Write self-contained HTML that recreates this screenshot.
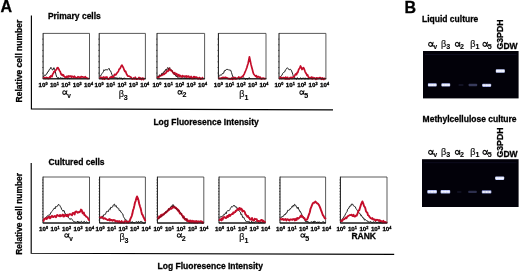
<!DOCTYPE html>
<html><head><meta charset="utf-8"><title>Figure</title>
<style>
html,body{margin:0;padding:0;background:#fff;}
body{width:520px;height:271px;overflow:hidden;font-family:"Liberation Sans",sans-serif;}
svg{display:block;position:absolute;left:0;top:0;}
text{font-family:"Liberation Sans",sans-serif;fill:#111;}
.pl{font-size:16px;font-weight:bold;fill:#000;stroke:#000;stroke-width:0.3px;}
.tt{font-size:8.5px;font-weight:bold;fill:#000;stroke:#000;stroke-width:0.28px;}
.tk{font-size:6.2px;font-weight:bold;fill:#000;stroke:#000;stroke-width:0.32px;}
.sp{font-size:3.8px;}
.gr{font-size:9.0px;fill:#141414;stroke:#141414;stroke-width:0.2px;}
.sb{font-size:7.1px;font-weight:bold;fill:#000;stroke:#000;stroke-width:0.1px;}
.sv{font-size:6.5px;}
</style></head><body>
<svg width="520" height="271" viewBox="0 0 520 271">
<defs>
<filter id="bl" x="-20%" y="-50%" width="140%" height="200%"><feGaussianBlur stdDeviation="0.55"/></filter>
<filter id="soft" x="-5%" y="-5%" width="110%" height="110%"><feGaussianBlur stdDeviation="0.2"/></filter>
</defs>
<rect x="0" y="0" width="520" height="271" fill="#ffffff"/>
<g filter="url(#soft)">

<text x="0.4" y="11.5" class="pl">A</text>
<text x="404.6" y="13.1" class="pl">B</text>
<text x="47.9" y="18.7" class="tt">Primary cells</text>
<text transform="translate(22.3,102.4) rotate(-90)" class="tt">Relative cell number</text>
<path d="M31.4,15.5 V108.9 L333,109.8" fill="none" stroke="#000" stroke-width="1.15"/>
<text x="153.4" y="125.4" class="tt">Log Fluoresence Intensity</text>
<rect x="43.1" y="33.4" width="46.4" height="45.4" fill="#fff"/>
<path d="M43.1,33.4 H89.5 V78.8" fill="none" stroke="#3c3c3c" stroke-width="0.85"/>
<path d="M43.1,33.1 V78.8 H89.8" fill="none" stroke="#161616" stroke-width="1.0"/>
<line x1="42.1" y1="73.1" x2="43.4" y2="73.1" stroke="#222" stroke-width="0.6"/>
<line x1="42.1" y1="67.5" x2="43.4" y2="67.5" stroke="#222" stroke-width="0.6"/>
<line x1="42.1" y1="61.8" x2="43.4" y2="61.8" stroke="#222" stroke-width="0.6"/>
<line x1="42.1" y1="56.1" x2="43.4" y2="56.1" stroke="#222" stroke-width="0.6"/>
<line x1="42.1" y1="50.4" x2="43.4" y2="50.4" stroke="#222" stroke-width="0.6"/>
<line x1="42.1" y1="44.8" x2="43.4" y2="44.8" stroke="#222" stroke-width="0.6"/>
<line x1="42.1" y1="39.1" x2="43.4" y2="39.1" stroke="#222" stroke-width="0.6"/>
<text x="43.0" y="86.8" class="tk" text-anchor="middle">10<tspan class="sp" dy="-1.9">0</tspan></text>
<text x="54.4" y="86.8" class="tk" text-anchor="middle">10<tspan class="sp" dy="-1.9">1</tspan></text>
<text x="65.8" y="86.8" class="tk" text-anchor="middle">10<tspan class="sp" dy="-1.9">2</tspan></text>
<text x="77.2" y="86.8" class="tk" text-anchor="middle">10<tspan class="sp" dy="-1.9">3</tspan></text>
<text x="88.6" y="86.8" class="tk" text-anchor="middle">10<tspan class="sp" dy="-1.9">4</tspan></text>
<rect x="99.2" y="33.4" width="46.2" height="45.4" fill="#fff"/>
<path d="M99.2,33.4 H145.4 V78.8" fill="none" stroke="#3c3c3c" stroke-width="0.85"/>
<path d="M99.2,33.1 V78.8 H145.7" fill="none" stroke="#161616" stroke-width="1.0"/>
<line x1="98.2" y1="73.1" x2="99.5" y2="73.1" stroke="#222" stroke-width="0.6"/>
<line x1="98.2" y1="67.5" x2="99.5" y2="67.5" stroke="#222" stroke-width="0.6"/>
<line x1="98.2" y1="61.8" x2="99.5" y2="61.8" stroke="#222" stroke-width="0.6"/>
<line x1="98.2" y1="56.1" x2="99.5" y2="56.1" stroke="#222" stroke-width="0.6"/>
<line x1="98.2" y1="50.4" x2="99.5" y2="50.4" stroke="#222" stroke-width="0.6"/>
<line x1="98.2" y1="44.8" x2="99.5" y2="44.8" stroke="#222" stroke-width="0.6"/>
<line x1="98.2" y1="39.1" x2="99.5" y2="39.1" stroke="#222" stroke-width="0.6"/>
<text x="99.1" y="86.8" class="tk" text-anchor="middle">10<tspan class="sp" dy="-1.9">0</tspan></text>
<text x="110.5" y="86.8" class="tk" text-anchor="middle">10<tspan class="sp" dy="-1.9">1</tspan></text>
<text x="121.9" y="86.8" class="tk" text-anchor="middle">10<tspan class="sp" dy="-1.9">2</tspan></text>
<text x="133.3" y="86.8" class="tk" text-anchor="middle">10<tspan class="sp" dy="-1.9">3</tspan></text>
<text x="144.7" y="86.8" class="tk" text-anchor="middle">10<tspan class="sp" dy="-1.9">4</tspan></text>
<rect x="157.0" y="33.4" width="47.6" height="45.4" fill="#fff"/>
<path d="M157.0,33.4 H204.6 V78.8" fill="none" stroke="#3c3c3c" stroke-width="0.85"/>
<path d="M157.0,33.1 V78.8 H204.9" fill="none" stroke="#161616" stroke-width="1.0"/>
<line x1="156.0" y1="73.1" x2="157.3" y2="73.1" stroke="#222" stroke-width="0.6"/>
<line x1="156.0" y1="67.5" x2="157.3" y2="67.5" stroke="#222" stroke-width="0.6"/>
<line x1="156.0" y1="61.8" x2="157.3" y2="61.8" stroke="#222" stroke-width="0.6"/>
<line x1="156.0" y1="56.1" x2="157.3" y2="56.1" stroke="#222" stroke-width="0.6"/>
<line x1="156.0" y1="50.4" x2="157.3" y2="50.4" stroke="#222" stroke-width="0.6"/>
<line x1="156.0" y1="44.8" x2="157.3" y2="44.8" stroke="#222" stroke-width="0.6"/>
<line x1="156.0" y1="39.1" x2="157.3" y2="39.1" stroke="#222" stroke-width="0.6"/>
<text x="156.9" y="86.8" class="tk" text-anchor="middle">10<tspan class="sp" dy="-1.9">0</tspan></text>
<text x="168.3" y="86.8" class="tk" text-anchor="middle">10<tspan class="sp" dy="-1.9">1</tspan></text>
<text x="179.7" y="86.8" class="tk" text-anchor="middle">10<tspan class="sp" dy="-1.9">2</tspan></text>
<text x="191.1" y="86.8" class="tk" text-anchor="middle">10<tspan class="sp" dy="-1.9">3</tspan></text>
<text x="202.5" y="86.8" class="tk" text-anchor="middle">10<tspan class="sp" dy="-1.9">4</tspan></text>
<rect x="218.4" y="33.4" width="47.6" height="45.4" fill="#fff"/>
<path d="M218.4,33.4 H266.0 V78.8" fill="none" stroke="#3c3c3c" stroke-width="0.85"/>
<path d="M218.4,33.1 V78.8 H266.3" fill="none" stroke="#161616" stroke-width="1.0"/>
<line x1="217.4" y1="73.1" x2="218.7" y2="73.1" stroke="#222" stroke-width="0.6"/>
<line x1="217.4" y1="67.5" x2="218.7" y2="67.5" stroke="#222" stroke-width="0.6"/>
<line x1="217.4" y1="61.8" x2="218.7" y2="61.8" stroke="#222" stroke-width="0.6"/>
<line x1="217.4" y1="56.1" x2="218.7" y2="56.1" stroke="#222" stroke-width="0.6"/>
<line x1="217.4" y1="50.4" x2="218.7" y2="50.4" stroke="#222" stroke-width="0.6"/>
<line x1="217.4" y1="44.8" x2="218.7" y2="44.8" stroke="#222" stroke-width="0.6"/>
<line x1="217.4" y1="39.1" x2="218.7" y2="39.1" stroke="#222" stroke-width="0.6"/>
<text x="218.3" y="86.8" class="tk" text-anchor="middle">10<tspan class="sp" dy="-1.9">0</tspan></text>
<text x="229.7" y="86.8" class="tk" text-anchor="middle">10<tspan class="sp" dy="-1.9">1</tspan></text>
<text x="241.1" y="86.8" class="tk" text-anchor="middle">10<tspan class="sp" dy="-1.9">2</tspan></text>
<text x="252.5" y="86.8" class="tk" text-anchor="middle">10<tspan class="sp" dy="-1.9">3</tspan></text>
<text x="263.9" y="86.8" class="tk" text-anchor="middle">10<tspan class="sp" dy="-1.9">4</tspan></text>
<rect x="279.0" y="33.4" width="46.9" height="45.4" fill="#fff"/>
<path d="M279.0,33.4 H325.9 V78.8" fill="none" stroke="#3c3c3c" stroke-width="0.85"/>
<path d="M279.0,33.1 V78.8 H326.2" fill="none" stroke="#161616" stroke-width="1.0"/>
<line x1="278.0" y1="73.1" x2="279.3" y2="73.1" stroke="#222" stroke-width="0.6"/>
<line x1="278.0" y1="67.5" x2="279.3" y2="67.5" stroke="#222" stroke-width="0.6"/>
<line x1="278.0" y1="61.8" x2="279.3" y2="61.8" stroke="#222" stroke-width="0.6"/>
<line x1="278.0" y1="56.1" x2="279.3" y2="56.1" stroke="#222" stroke-width="0.6"/>
<line x1="278.0" y1="50.4" x2="279.3" y2="50.4" stroke="#222" stroke-width="0.6"/>
<line x1="278.0" y1="44.8" x2="279.3" y2="44.8" stroke="#222" stroke-width="0.6"/>
<line x1="278.0" y1="39.1" x2="279.3" y2="39.1" stroke="#222" stroke-width="0.6"/>
<text x="278.9" y="86.8" class="tk" text-anchor="middle">10<tspan class="sp" dy="-1.9">0</tspan></text>
<text x="290.3" y="86.8" class="tk" text-anchor="middle">10<tspan class="sp" dy="-1.9">1</tspan></text>
<text x="301.7" y="86.8" class="tk" text-anchor="middle">10<tspan class="sp" dy="-1.9">2</tspan></text>
<text x="313.1" y="86.8" class="tk" text-anchor="middle">10<tspan class="sp" dy="-1.9">3</tspan></text>
<text x="324.5" y="86.8" class="tk" text-anchor="middle">10<tspan class="sp" dy="-1.9">4</tspan></text>
<text x="48.4" y="164.8" class="tt">Cultured cells</text>
<text transform="translate(22.4,254.7) rotate(-90)" class="tt" style="font-size:8.42px">Relative cell number</text>
<path d="M31.2,163 V253.2 L394.2,254.4" fill="none" stroke="#000" stroke-width="1.15"/>
<text x="157.6" y="269.0" class="tt">Log Fluoresence Intensity</text>
<rect x="43.0" y="177.0" width="46.5" height="46.0" fill="#fff"/>
<path d="M43.0,177.0 H89.5 V223.0" fill="none" stroke="#3c3c3c" stroke-width="0.85"/>
<path d="M43.0,176.7 V223.0 H89.8" fill="none" stroke="#161616" stroke-width="1.0"/>
<line x1="42.0" y1="220.1" x2="43.3" y2="220.1" stroke="#222" stroke-width="0.6"/>
<line x1="42.0" y1="217.2" x2="43.3" y2="217.2" stroke="#222" stroke-width="0.6"/>
<line x1="42.0" y1="214.4" x2="43.3" y2="214.4" stroke="#222" stroke-width="0.6"/>
<line x1="42.0" y1="211.5" x2="43.3" y2="211.5" stroke="#222" stroke-width="0.6"/>
<line x1="42.0" y1="208.6" x2="43.3" y2="208.6" stroke="#222" stroke-width="0.6"/>
<line x1="42.0" y1="205.8" x2="43.3" y2="205.8" stroke="#222" stroke-width="0.6"/>
<line x1="42.0" y1="202.9" x2="43.3" y2="202.9" stroke="#222" stroke-width="0.6"/>
<line x1="42.0" y1="200.0" x2="43.3" y2="200.0" stroke="#222" stroke-width="0.6"/>
<line x1="42.0" y1="197.1" x2="43.3" y2="197.1" stroke="#222" stroke-width="0.6"/>
<line x1="42.0" y1="194.2" x2="43.3" y2="194.2" stroke="#222" stroke-width="0.6"/>
<line x1="42.0" y1="191.4" x2="43.3" y2="191.4" stroke="#222" stroke-width="0.6"/>
<line x1="42.0" y1="188.5" x2="43.3" y2="188.5" stroke="#222" stroke-width="0.6"/>
<line x1="42.0" y1="185.6" x2="43.3" y2="185.6" stroke="#222" stroke-width="0.6"/>
<line x1="42.0" y1="182.8" x2="43.3" y2="182.8" stroke="#222" stroke-width="0.6"/>
<line x1="42.0" y1="179.9" x2="43.3" y2="179.9" stroke="#222" stroke-width="0.6"/>
<text x="43.5" y="231.0" class="tk" text-anchor="middle">10<tspan class="sp" dy="-1.9">0</tspan></text>
<text x="55.0" y="231.0" class="tk" text-anchor="middle">10<tspan class="sp" dy="-1.9">1</tspan></text>
<text x="66.5" y="231.0" class="tk" text-anchor="middle">10<tspan class="sp" dy="-1.9">2</tspan></text>
<text x="78.0" y="231.0" class="tk" text-anchor="middle">10<tspan class="sp" dy="-1.9">3</tspan></text>
<text x="89.5" y="231.0" class="tk" text-anchor="middle">10<tspan class="sp" dy="-1.9">4</tspan></text>
<rect x="99.6" y="177.0" width="45.8" height="46.0" fill="#fff"/>
<path d="M99.6,177.0 H145.4 V223.0" fill="none" stroke="#3c3c3c" stroke-width="0.85"/>
<path d="M99.6,176.7 V223.0 H145.7" fill="none" stroke="#161616" stroke-width="1.0"/>
<line x1="98.6" y1="220.1" x2="99.9" y2="220.1" stroke="#222" stroke-width="0.6"/>
<line x1="98.6" y1="217.2" x2="99.9" y2="217.2" stroke="#222" stroke-width="0.6"/>
<line x1="98.6" y1="214.4" x2="99.9" y2="214.4" stroke="#222" stroke-width="0.6"/>
<line x1="98.6" y1="211.5" x2="99.9" y2="211.5" stroke="#222" stroke-width="0.6"/>
<line x1="98.6" y1="208.6" x2="99.9" y2="208.6" stroke="#222" stroke-width="0.6"/>
<line x1="98.6" y1="205.8" x2="99.9" y2="205.8" stroke="#222" stroke-width="0.6"/>
<line x1="98.6" y1="202.9" x2="99.9" y2="202.9" stroke="#222" stroke-width="0.6"/>
<line x1="98.6" y1="200.0" x2="99.9" y2="200.0" stroke="#222" stroke-width="0.6"/>
<line x1="98.6" y1="197.1" x2="99.9" y2="197.1" stroke="#222" stroke-width="0.6"/>
<line x1="98.6" y1="194.2" x2="99.9" y2="194.2" stroke="#222" stroke-width="0.6"/>
<line x1="98.6" y1="191.4" x2="99.9" y2="191.4" stroke="#222" stroke-width="0.6"/>
<line x1="98.6" y1="188.5" x2="99.9" y2="188.5" stroke="#222" stroke-width="0.6"/>
<line x1="98.6" y1="185.6" x2="99.9" y2="185.6" stroke="#222" stroke-width="0.6"/>
<line x1="98.6" y1="182.8" x2="99.9" y2="182.8" stroke="#222" stroke-width="0.6"/>
<line x1="98.6" y1="179.9" x2="99.9" y2="179.9" stroke="#222" stroke-width="0.6"/>
<text x="100.1" y="231.0" class="tk" text-anchor="middle">10<tspan class="sp" dy="-1.9">0</tspan></text>
<text x="111.6" y="231.0" class="tk" text-anchor="middle">10<tspan class="sp" dy="-1.9">1</tspan></text>
<text x="123.1" y="231.0" class="tk" text-anchor="middle">10<tspan class="sp" dy="-1.9">2</tspan></text>
<text x="134.6" y="231.0" class="tk" text-anchor="middle">10<tspan class="sp" dy="-1.9">3</tspan></text>
<text x="146.1" y="231.0" class="tk" text-anchor="middle">10<tspan class="sp" dy="-1.9">4</tspan></text>
<rect x="157.4" y="177.0" width="46.4" height="46.0" fill="#fff"/>
<path d="M157.4,177.0 H203.8 V223.0" fill="none" stroke="#3c3c3c" stroke-width="0.85"/>
<path d="M157.4,176.7 V223.0 H204.1" fill="none" stroke="#161616" stroke-width="1.0"/>
<line x1="156.4" y1="220.1" x2="157.7" y2="220.1" stroke="#222" stroke-width="0.6"/>
<line x1="156.4" y1="217.2" x2="157.7" y2="217.2" stroke="#222" stroke-width="0.6"/>
<line x1="156.4" y1="214.4" x2="157.7" y2="214.4" stroke="#222" stroke-width="0.6"/>
<line x1="156.4" y1="211.5" x2="157.7" y2="211.5" stroke="#222" stroke-width="0.6"/>
<line x1="156.4" y1="208.6" x2="157.7" y2="208.6" stroke="#222" stroke-width="0.6"/>
<line x1="156.4" y1="205.8" x2="157.7" y2="205.8" stroke="#222" stroke-width="0.6"/>
<line x1="156.4" y1="202.9" x2="157.7" y2="202.9" stroke="#222" stroke-width="0.6"/>
<line x1="156.4" y1="200.0" x2="157.7" y2="200.0" stroke="#222" stroke-width="0.6"/>
<line x1="156.4" y1="197.1" x2="157.7" y2="197.1" stroke="#222" stroke-width="0.6"/>
<line x1="156.4" y1="194.2" x2="157.7" y2="194.2" stroke="#222" stroke-width="0.6"/>
<line x1="156.4" y1="191.4" x2="157.7" y2="191.4" stroke="#222" stroke-width="0.6"/>
<line x1="156.4" y1="188.5" x2="157.7" y2="188.5" stroke="#222" stroke-width="0.6"/>
<line x1="156.4" y1="185.6" x2="157.7" y2="185.6" stroke="#222" stroke-width="0.6"/>
<line x1="156.4" y1="182.8" x2="157.7" y2="182.8" stroke="#222" stroke-width="0.6"/>
<line x1="156.4" y1="179.9" x2="157.7" y2="179.9" stroke="#222" stroke-width="0.6"/>
<text x="157.9" y="231.0" class="tk" text-anchor="middle">10<tspan class="sp" dy="-1.9">0</tspan></text>
<text x="169.4" y="231.0" class="tk" text-anchor="middle">10<tspan class="sp" dy="-1.9">1</tspan></text>
<text x="180.9" y="231.0" class="tk" text-anchor="middle">10<tspan class="sp" dy="-1.9">2</tspan></text>
<text x="192.4" y="231.0" class="tk" text-anchor="middle">10<tspan class="sp" dy="-1.9">3</tspan></text>
<text x="203.9" y="231.0" class="tk" text-anchor="middle">10<tspan class="sp" dy="-1.9">4</tspan></text>
<rect x="219.0" y="177.0" width="46.2" height="46.0" fill="#fff"/>
<path d="M219.0,177.0 H265.2 V223.0" fill="none" stroke="#3c3c3c" stroke-width="0.85"/>
<path d="M219.0,176.7 V223.0 H265.5" fill="none" stroke="#161616" stroke-width="1.0"/>
<line x1="218.0" y1="220.1" x2="219.3" y2="220.1" stroke="#222" stroke-width="0.6"/>
<line x1="218.0" y1="217.2" x2="219.3" y2="217.2" stroke="#222" stroke-width="0.6"/>
<line x1="218.0" y1="214.4" x2="219.3" y2="214.4" stroke="#222" stroke-width="0.6"/>
<line x1="218.0" y1="211.5" x2="219.3" y2="211.5" stroke="#222" stroke-width="0.6"/>
<line x1="218.0" y1="208.6" x2="219.3" y2="208.6" stroke="#222" stroke-width="0.6"/>
<line x1="218.0" y1="205.8" x2="219.3" y2="205.8" stroke="#222" stroke-width="0.6"/>
<line x1="218.0" y1="202.9" x2="219.3" y2="202.9" stroke="#222" stroke-width="0.6"/>
<line x1="218.0" y1="200.0" x2="219.3" y2="200.0" stroke="#222" stroke-width="0.6"/>
<line x1="218.0" y1="197.1" x2="219.3" y2="197.1" stroke="#222" stroke-width="0.6"/>
<line x1="218.0" y1="194.2" x2="219.3" y2="194.2" stroke="#222" stroke-width="0.6"/>
<line x1="218.0" y1="191.4" x2="219.3" y2="191.4" stroke="#222" stroke-width="0.6"/>
<line x1="218.0" y1="188.5" x2="219.3" y2="188.5" stroke="#222" stroke-width="0.6"/>
<line x1="218.0" y1="185.6" x2="219.3" y2="185.6" stroke="#222" stroke-width="0.6"/>
<line x1="218.0" y1="182.8" x2="219.3" y2="182.8" stroke="#222" stroke-width="0.6"/>
<line x1="218.0" y1="179.9" x2="219.3" y2="179.9" stroke="#222" stroke-width="0.6"/>
<text x="219.5" y="231.0" class="tk" text-anchor="middle">10<tspan class="sp" dy="-1.9">0</tspan></text>
<text x="231.0" y="231.0" class="tk" text-anchor="middle">10<tspan class="sp" dy="-1.9">1</tspan></text>
<text x="242.5" y="231.0" class="tk" text-anchor="middle">10<tspan class="sp" dy="-1.9">2</tspan></text>
<text x="254.0" y="231.0" class="tk" text-anchor="middle">10<tspan class="sp" dy="-1.9">3</tspan></text>
<text x="265.5" y="231.0" class="tk" text-anchor="middle">10<tspan class="sp" dy="-1.9">4</tspan></text>
<rect x="280.0" y="177.0" width="45.6" height="46.0" fill="#fff"/>
<path d="M280.0,177.0 H325.6 V223.0" fill="none" stroke="#3c3c3c" stroke-width="0.85"/>
<path d="M280.0,176.7 V223.0 H325.9" fill="none" stroke="#161616" stroke-width="1.0"/>
<line x1="279.0" y1="220.1" x2="280.3" y2="220.1" stroke="#222" stroke-width="0.6"/>
<line x1="279.0" y1="217.2" x2="280.3" y2="217.2" stroke="#222" stroke-width="0.6"/>
<line x1="279.0" y1="214.4" x2="280.3" y2="214.4" stroke="#222" stroke-width="0.6"/>
<line x1="279.0" y1="211.5" x2="280.3" y2="211.5" stroke="#222" stroke-width="0.6"/>
<line x1="279.0" y1="208.6" x2="280.3" y2="208.6" stroke="#222" stroke-width="0.6"/>
<line x1="279.0" y1="205.8" x2="280.3" y2="205.8" stroke="#222" stroke-width="0.6"/>
<line x1="279.0" y1="202.9" x2="280.3" y2="202.9" stroke="#222" stroke-width="0.6"/>
<line x1="279.0" y1="200.0" x2="280.3" y2="200.0" stroke="#222" stroke-width="0.6"/>
<line x1="279.0" y1="197.1" x2="280.3" y2="197.1" stroke="#222" stroke-width="0.6"/>
<line x1="279.0" y1="194.2" x2="280.3" y2="194.2" stroke="#222" stroke-width="0.6"/>
<line x1="279.0" y1="191.4" x2="280.3" y2="191.4" stroke="#222" stroke-width="0.6"/>
<line x1="279.0" y1="188.5" x2="280.3" y2="188.5" stroke="#222" stroke-width="0.6"/>
<line x1="279.0" y1="185.6" x2="280.3" y2="185.6" stroke="#222" stroke-width="0.6"/>
<line x1="279.0" y1="182.8" x2="280.3" y2="182.8" stroke="#222" stroke-width="0.6"/>
<line x1="279.0" y1="179.9" x2="280.3" y2="179.9" stroke="#222" stroke-width="0.6"/>
<text x="280.5" y="231.0" class="tk" text-anchor="middle">10<tspan class="sp" dy="-1.9">0</tspan></text>
<text x="292.0" y="231.0" class="tk" text-anchor="middle">10<tspan class="sp" dy="-1.9">1</tspan></text>
<text x="303.5" y="231.0" class="tk" text-anchor="middle">10<tspan class="sp" dy="-1.9">2</tspan></text>
<text x="315.0" y="231.0" class="tk" text-anchor="middle">10<tspan class="sp" dy="-1.9">3</tspan></text>
<text x="326.5" y="231.0" class="tk" text-anchor="middle">10<tspan class="sp" dy="-1.9">4</tspan></text>
<rect x="340.4" y="177.0" width="46.6" height="46.0" fill="#fff"/>
<path d="M340.4,177.0 H387.0 V223.0" fill="none" stroke="#3c3c3c" stroke-width="0.85"/>
<path d="M340.4,176.7 V223.0 H387.3" fill="none" stroke="#161616" stroke-width="1.0"/>
<line x1="339.4" y1="220.1" x2="340.7" y2="220.1" stroke="#222" stroke-width="0.6"/>
<line x1="339.4" y1="217.2" x2="340.7" y2="217.2" stroke="#222" stroke-width="0.6"/>
<line x1="339.4" y1="214.4" x2="340.7" y2="214.4" stroke="#222" stroke-width="0.6"/>
<line x1="339.4" y1="211.5" x2="340.7" y2="211.5" stroke="#222" stroke-width="0.6"/>
<line x1="339.4" y1="208.6" x2="340.7" y2="208.6" stroke="#222" stroke-width="0.6"/>
<line x1="339.4" y1="205.8" x2="340.7" y2="205.8" stroke="#222" stroke-width="0.6"/>
<line x1="339.4" y1="202.9" x2="340.7" y2="202.9" stroke="#222" stroke-width="0.6"/>
<line x1="339.4" y1="200.0" x2="340.7" y2="200.0" stroke="#222" stroke-width="0.6"/>
<line x1="339.4" y1="197.1" x2="340.7" y2="197.1" stroke="#222" stroke-width="0.6"/>
<line x1="339.4" y1="194.2" x2="340.7" y2="194.2" stroke="#222" stroke-width="0.6"/>
<line x1="339.4" y1="191.4" x2="340.7" y2="191.4" stroke="#222" stroke-width="0.6"/>
<line x1="339.4" y1="188.5" x2="340.7" y2="188.5" stroke="#222" stroke-width="0.6"/>
<line x1="339.4" y1="185.6" x2="340.7" y2="185.6" stroke="#222" stroke-width="0.6"/>
<line x1="339.4" y1="182.8" x2="340.7" y2="182.8" stroke="#222" stroke-width="0.6"/>
<line x1="339.4" y1="179.9" x2="340.7" y2="179.9" stroke="#222" stroke-width="0.6"/>
<text x="340.9" y="231.0" class="tk" text-anchor="middle">10<tspan class="sp" dy="-1.9">0</tspan></text>
<text x="352.4" y="231.0" class="tk" text-anchor="middle">10<tspan class="sp" dy="-1.9">1</tspan></text>
<text x="363.9" y="231.0" class="tk" text-anchor="middle">10<tspan class="sp" dy="-1.9">2</tspan></text>
<text x="375.4" y="231.0" class="tk" text-anchor="middle">10<tspan class="sp" dy="-1.9">3</tspan></text>
<text x="386.9" y="231.0" class="tk" text-anchor="middle">10<tspan class="sp" dy="-1.9">4</tspan></text>
<path transform="translate(62.36,90.50) scale(0.93,1.00)" d="M4.9,0.2 C4.6,1.8 4.1,3.85 2.2,3.85 C0.95,3.85 0.45,3.0 0.45,2.05 C0.45,1.0 0.95,0.3 2.2,0.3 C4.1,0.3 4.2,2.8 5.0,3.9" fill="none" stroke="#080808" stroke-width="1.05" stroke-linecap="round"/>
<text x="67.2" y="97.6" class="sb sv">v</text>
<text x="123.9" y="96.8" class="gr" text-anchor="end">β</text>
<text x="123.8" y="99.8" class="sb">3</text>
<path transform="translate(177.56,90.30) scale(0.93,1.00)" d="M4.9,0.2 C4.6,1.8 4.1,3.85 2.2,3.85 C0.95,3.85 0.45,3.0 0.45,2.05 C0.45,1.0 0.95,0.3 2.2,0.3 C4.1,0.3 4.2,2.8 5.0,3.9" fill="none" stroke="#080808" stroke-width="1.05" stroke-linecap="round"/>
<text x="182.4" y="97.4" class="sb">2</text>
<text x="244.5" y="96.8" class="gr" text-anchor="end">β</text>
<text x="244.4" y="99.8" class="sb">1</text>
<path transform="translate(299.46,90.50) scale(0.93,1.00)" d="M4.9,0.2 C4.6,1.8 4.1,3.85 2.2,3.85 C0.95,3.85 0.45,3.0 0.45,2.05 C0.45,1.0 0.95,0.3 2.2,0.3 C4.1,0.3 4.2,2.8 5.0,3.9" fill="none" stroke="#080808" stroke-width="1.05" stroke-linecap="round"/>
<text x="304.3" y="97.6" class="sb">5</text>
<path transform="translate(64.36,233.40) scale(0.93,1.00)" d="M4.9,0.2 C4.6,1.8 4.1,3.85 2.2,3.85 C0.95,3.85 0.45,3.0 0.45,2.05 C0.45,1.0 0.95,0.3 2.2,0.3 C4.1,0.3 4.2,2.8 5.0,3.9" fill="none" stroke="#080808" stroke-width="1.05" stroke-linecap="round"/>
<text x="69.2" y="240.5" class="sb sv">v</text>
<text x="124.6" y="240.0" class="gr" text-anchor="end">β</text>
<text x="124.5" y="242.6" class="sb">3</text>
<path transform="translate(176.86,233.40) scale(0.93,1.00)" d="M4.9,0.2 C4.6,1.8 4.1,3.85 2.2,3.85 C0.95,3.85 0.45,3.0 0.45,2.05 C0.45,1.0 0.95,0.3 2.2,0.3 C4.1,0.3 4.2,2.8 5.0,3.9" fill="none" stroke="#080808" stroke-width="1.05" stroke-linecap="round"/>
<text x="181.7" y="240.5" class="sb">2</text>
<text x="244.5" y="240.0" class="gr" text-anchor="end">β</text>
<text x="244.4" y="242.6" class="sb">1</text>
<path transform="translate(300.46,233.40) scale(0.93,1.00)" d="M4.9,0.2 C4.6,1.8 4.1,3.85 2.2,3.85 C0.95,3.85 0.45,3.0 0.45,2.05 C0.45,1.0 0.95,0.3 2.2,0.3 C4.1,0.3 4.2,2.8 5.0,3.9" fill="none" stroke="#080808" stroke-width="1.05" stroke-linecap="round"/>
<text x="305.3" y="240.5" class="sb">5</text>
<text x="351.4" y="239.0" class="tt">RANK</text>
<path d="M43.4,76.5 L44.0,75.8 L44.7,75.2 L45.4,75.6 L46.0,74.3 L46.6,74.2 L47.2,73.0 L47.9,71.6 L48.5,71.5 L49.3,69.5 L50.1,69.1 L50.9,67.3 L51.6,68.3 L52.3,69.9 L53.1,69.7 L53.9,67.7 L54.5,69.2 L55.2,71.2 L56.0,74.8 L56.8,77.1 L57.4,77.5 L58.0,79.1 L58.6,77.5 L59.2,78.9 L59.8,78.0 L60.4,77.7 L61.0,77.7 L61.6,78.0 L62.2,78.9 L62.8,77.8 L63.4,78.5 L64.0,78.6 L64.6,78.2 L65.2,78.5 L65.8,77.7 L66.4,77.7 L67.0,78.0 L67.6,78.8 L68.2,78.3 L68.8,78.2 L69.4,78.6 L70.0,78.5" fill="none" stroke="#141414" stroke-width="0.95" stroke-linejoin="round" stroke-linecap="round"/>
<path d="M43.4,78.0 L44.0,77.9 L44.6,77.5 L45.3,78.5 L45.9,78.3 L46.5,77.4 L47.1,78.0 L47.8,77.9 L48.4,78.6 L49.0,78.3 L49.6,77.0 L50.2,78.1 L50.8,75.9 L51.4,76.2 L52.0,76.5 L52.6,74.2 L53.2,73.7 L53.9,71.7 L54.5,71.8 L55.2,71.2 L55.8,70.0 L56.5,69.8 L57.2,67.8 L58.0,67.7 L58.8,69.1 L59.5,70.7 L60.2,71.6 L60.8,73.5 L61.5,74.9 L62.1,74.5 L62.8,75.5 L63.4,74.9 L64.0,76.5 L64.7,76.6 L65.3,77.6 L66.0,77.5 L66.6,76.4 L67.2,76.6 L67.8,77.2 L68.4,75.9 L69.0,76.8 L69.6,76.2 L70.2,76.2 L70.8,76.1 L71.4,77.5 L72.0,76.2 L72.6,76.5 L73.2,76.8 L73.8,77.8 L74.4,76.2 L75.0,77.0 L75.6,77.2 L76.2,77.9 L76.8,77.8 L77.4,77.9 L78.0,76.7 L78.6,77.0 L79.2,77.0 L79.8,78.0 L80.4,78.2 L81.0,76.6 L81.6,76.7 L82.2,76.8 L82.8,76.8 L83.4,77.3 L84.0,77.6 L84.7,77.1 L85.3,76.7 L86.0,77.7 L86.7,77.8 L87.3,78.4 L88.0,78.4" fill="none" stroke="#c40d2a" stroke-width="1.7" stroke-linejoin="round" stroke-linecap="round"/>
<path d="M100.0,76.0 L100.7,75.9 L101.3,74.7 L102.0,73.5 L102.7,72.7 L103.3,71.8 L104.0,69.7 L104.7,70.6 L105.3,69.8 L106.0,69.4 L106.8,69.9 L107.5,69.8 L108.2,69.3 L109.0,68.3 L109.8,70.5 L110.5,70.8 L111.2,72.4 L111.8,74.3 L112.5,75.9 L113.2,77.1 L114.0,77.5 L114.6,77.5 L115.2,77.7 L115.8,77.7 L116.4,78.1 L117.1,77.5 L117.7,79.0 L118.3,78.6 L118.9,77.8 L119.5,78.0 L120.1,78.2 L120.7,78.2 L121.3,77.8 L121.9,79.0 L122.6,79.3 L123.2,78.4 L123.8,78.5 L124.4,77.8 L125.0,78.5" fill="none" stroke="#141414" stroke-width="0.95" stroke-linejoin="round" stroke-linecap="round"/>
<path d="M100.0,78.2 L100.6,77.2 L101.2,77.8 L101.9,77.6 L102.5,78.9 L103.1,77.3 L103.8,77.0 L104.4,79.2 L105.0,78.2 L105.6,77.2 L106.2,78.2 L106.9,76.9 L107.5,78.1 L108.1,79.2 L108.8,78.9 L109.4,78.5 L110.0,77.4 L110.7,77.4 L111.4,76.6 L112.1,77.7 L112.8,76.9 L113.5,77.2 L114.1,75.3 L114.8,74.3 L115.4,75.0 L116.0,74.7 L116.6,73.6 L117.2,72.7 L117.9,72.0 L118.5,71.1 L119.2,69.0 L119.8,68.9 L120.5,67.7 L121.2,66.0 L122.0,65.1 L122.8,66.8 L123.5,67.9 L124.2,70.0 L125.0,71.6 L125.7,71.4 L126.3,73.5 L127.0,74.7 L127.8,76.1 L128.5,76.2 L129.1,76.2 L129.8,76.6 L130.4,76.9 L131.0,77.3 L131.6,78.3 L132.2,79.0 L132.9,78.9 L133.5,78.0 L134.1,78.5 L134.7,78.9 L135.3,77.2 L136.0,78.6 L136.6,79.2 L137.2,78.9 L137.8,78.9 L138.4,78.2 L139.0,77.5 L139.7,79.0 L140.3,78.0 L140.9,79.1 L141.5,79.5 L142.1,78.2 L142.8,78.2 L143.4,79.5 L144.0,78.5" fill="none" stroke="#c40d2a" stroke-width="1.7" stroke-linejoin="round" stroke-linecap="round"/>
<path d="M157.6,77.0 L158.2,77.0 L158.8,75.7 L159.4,75.2 L160.0,74.9 L160.6,75.7 L161.2,75.0 L161.8,73.4 L162.4,74.1 L163.0,73.8 L163.6,72.7 L164.2,71.5 L164.8,71.3 L165.4,70.0 L166.0,69.2 L166.6,70.3 L167.2,69.2 L167.9,68.4 L168.5,68.5 L169.2,68.3 L170.0,69.6 L170.7,70.4 L171.3,70.2 L172.0,71.1 L172.6,71.8 L173.2,72.5 L173.8,73.7 L174.4,73.9 L175.0,74.9 L175.6,74.9 L176.2,76.7 L176.8,76.3 L177.4,76.9 L178.0,77.6 L178.7,78.3 L179.3,77.7 L180.0,78.7 L180.7,78.1 L181.3,78.3 L182.0,78.4 L182.6,77.6 L183.2,78.3 L183.9,77.9 L184.5,77.6 L185.1,78.9 L185.7,77.9 L186.3,78.4 L187.0,78.8 L187.6,78.5 L188.2,78.2 L188.8,78.5 L189.4,78.6 L190.0,78.9 L190.7,77.8 L191.3,78.6 L191.9,78.0 L192.5,78.1 L193.1,78.9 L193.8,78.5 L194.4,78.6 L195.0,78.5" fill="none" stroke="#141414" stroke-width="0.95" stroke-linejoin="round" stroke-linecap="round"/>
<path d="M157.6,77.2 L158.2,77.4 L158.8,77.4 L159.4,76.2 L160.0,76.2 L160.6,75.7 L161.2,75.4 L161.8,75.5 L162.4,74.7 L163.0,74.6 L163.6,74.0 L164.2,74.4 L164.8,73.4 L165.4,73.3 L166.0,72.9 L166.6,71.0 L167.2,71.1 L167.8,71.4 L168.4,70.7 L169.0,68.8 L169.7,69.2 L170.3,70.4 L171.0,70.1 L171.6,70.9 L172.2,70.9 L172.8,72.5 L173.4,73.2 L174.0,73.8 L174.7,72.6 L175.3,74.1 L176.0,74.3 L176.7,73.6 L177.3,75.4 L178.0,76.0 L178.7,74.6 L179.3,76.3 L180.0,75.4 L180.7,75.8 L181.3,77.0 L182.0,76.9 L182.6,75.6 L183.2,76.2 L183.8,76.5 L184.4,76.2 L185.0,76.0 L185.6,76.3 L186.2,77.2 L186.8,75.9 L187.4,77.0 L188.0,76.9 L188.6,76.1 L189.2,76.8 L189.8,77.4 L190.5,77.3 L191.1,76.4 L191.7,78.4 L192.3,78.0 L192.9,78.5 L193.5,76.7 L194.2,77.1 L194.8,76.7 L195.4,78.3 L196.0,77.3 L196.6,77.1 L197.3,77.8 L197.9,78.8 L198.5,78.7 L199.2,77.6 L199.8,77.5 L200.5,79.1 L201.1,78.5 L201.7,78.8 L202.4,77.6 L203.0,78.5" fill="none" stroke="#c40d2a" stroke-width="1.7" stroke-linejoin="round" stroke-linecap="round"/>
<path d="M157.6,77.0 L158.2,75.9 L158.8,76.6 L159.4,75.7 L160.0,74.8 L160.6,75.7 L161.2,74.7 L161.8,74.5 L162.4,72.8 L163.0,73.6 L163.6,71.7 L164.2,72.4 L164.8,71.1 L165.4,70.3 L166.0,70.1 L166.6,69.9 L167.2,68.0 L167.8,67.0 L168.6,69.5 L169.6,67.0 L170.6,68.8 L171.3,69.9 L172.0,70.7 L172.6,71.7 L173.2,72.6 L173.8,73.3 L174.4,74.7 L175.0,74.6 L175.6,75.5 L176.2,75.5 L176.8,76.2 L177.4,76.2 L178.0,77.5" fill="none" stroke="#3a0a10" stroke-width="0.5" stroke-linejoin="round" stroke-linecap="round"/>
<path d="M219.0,76.5 L219.7,75.6 L220.3,74.7 L221.0,75.4 L221.7,74.6 L222.3,73.5 L223.0,73.5 L223.7,73.2 L224.3,70.8 L225.0,71.0 L225.7,69.9 L226.3,69.5 L227.0,69.6 L227.8,69.3 L228.5,70.0 L229.2,70.0 L230.0,70.1 L230.8,70.4 L231.5,72.6 L232.2,74.9 L233.0,77.2 L233.7,77.3 L234.3,77.7 L235.0,77.6 L235.6,77.8 L236.2,77.7 L236.8,78.8 L237.4,78.0 L238.0,77.8 L238.6,77.7 L239.2,79.0 L239.8,79.1 L240.4,78.7 L241.0,78.1 L241.6,78.0 L242.2,78.1 L242.8,78.4 L243.4,77.9 L244.0,78.4 L244.6,78.1 L245.2,79.3 L245.8,79.3 L246.4,78.6 L247.0,78.0 L247.6,79.3 L248.2,78.2 L248.8,78.2 L249.4,77.6 L250.0,78.5" fill="none" stroke="#141414" stroke-width="0.95" stroke-linejoin="round" stroke-linecap="round"/>
<path d="M219.0,78.4 L219.6,78.2 L220.2,78.3 L220.8,78.4 L221.5,77.8 L222.1,78.4 L222.7,77.4 L223.3,77.9 L223.9,77.5 L224.5,78.2 L225.2,77.4 L225.8,77.4 L226.4,78.0 L227.0,77.8 L227.6,78.5 L228.2,78.4 L228.8,78.8 L229.5,78.7 L230.1,78.8 L230.7,79.1 L231.3,78.1 L231.9,78.0 L232.5,79.3 L233.2,77.6 L233.8,78.8 L234.4,78.6 L235.0,77.4 L235.6,78.9 L236.2,78.9 L236.9,78.3 L237.5,78.4 L238.1,78.4 L238.8,77.0 L239.4,77.6 L240.0,77.5 L240.6,77.8 L241.2,77.3 L241.8,77.0 L242.4,76.1 L243.0,76.3 L243.6,75.0 L244.2,74.1 L244.9,72.3 L245.5,71.0 L246.2,69.3 L246.8,67.7 L247.5,65.2 L248.1,63.5 L248.8,59.8 L249.4,56.8 L250.2,60.5 L251.0,64.4 L251.8,67.5 L252.5,70.0 L253.2,72.9 L253.8,74.2 L254.5,75.0 L255.1,75.6 L255.8,76.3 L256.4,75.6 L257.0,77.5 L257.7,76.7 L258.3,76.5 L259.0,77.0 L259.7,78.1 L260.3,77.2 L261.0,78.5 L261.7,79.1 L262.3,78.2 L263.0,78.0 L263.7,78.3 L264.3,78.8 L265.0,78.5" fill="none" stroke="#c40d2a" stroke-width="1.7" stroke-linejoin="round" stroke-linecap="round"/>
<path d="M279.6,77.0 L280.4,76.8 L281.2,75.9 L282.0,75.2 L282.7,73.4 L283.3,72.7 L284.0,72.1 L284.7,71.9 L285.3,70.2 L286.0,69.6 L286.8,68.2 L287.5,67.8 L288.2,68.6 L289.0,69.8 L289.8,69.6 L290.5,69.3 L291.2,70.1 L292.0,72.0 L292.8,74.4 L293.5,76.9 L294.2,77.1 L295.0,79.1 L295.6,77.9 L296.2,79.2 L296.8,79.2 L297.4,77.6 L298.0,78.4 L298.6,79.0 L299.2,79.2 L299.8,78.3 L300.4,78.0 L301.0,77.9 L301.6,79.2 L302.2,78.0 L302.8,78.6 L303.4,77.8 L304.0,78.5 L304.6,79.2 L305.2,77.8 L305.8,79.0 L306.4,78.5 L307.0,79.1 L307.6,78.8 L308.2,78.0 L308.8,79.2 L309.4,78.5 L310.0,78.5" fill="none" stroke="#141414" stroke-width="0.95" stroke-linejoin="round" stroke-linecap="round"/>
<path d="M279.6,78.4 L280.2,77.4 L280.8,77.3 L281.4,78.3 L282.0,78.2 L282.7,77.9 L283.3,77.5 L283.9,77.9 L284.5,77.8 L285.1,78.9 L285.7,77.1 L286.3,78.7 L286.9,78.8 L287.6,77.3 L288.2,78.9 L288.8,78.5 L289.4,78.8 L290.0,77.6 L290.7,77.6 L291.3,77.4 L292.0,78.5 L292.7,77.5 L293.3,76.9 L294.0,76.9 L294.6,75.8 L295.2,74.6 L295.9,73.9 L296.5,74.7 L297.2,72.4 L297.8,72.6 L298.5,70.0 L299.2,68.7 L299.8,67.9 L300.5,66.0 L301.2,67.3 L302.0,69.5 L302.8,68.6 L303.5,67.6 L304.2,69.0 L305.0,71.3 L305.7,72.9 L306.3,73.6 L307.0,75.4 L307.7,74.9 L308.3,77.1 L309.0,77.4 L309.7,78.1 L310.3,78.1 L311.0,77.5 L311.7,77.1 L312.3,79.0 L313.0,77.5 L313.6,78.3 L314.2,78.0 L314.8,77.9 L315.4,78.8 L316.0,79.3 L316.6,77.9 L317.2,78.7 L317.8,78.0 L318.4,78.5 L319.0,78.2 L319.6,77.7 L320.2,77.7 L320.8,77.8 L321.4,79.3 L322.0,78.4 L322.6,77.9 L323.2,79.3 L323.8,79.5 L324.4,78.4 L325.0,78.5" fill="none" stroke="#c40d2a" stroke-width="1.7" stroke-linejoin="round" stroke-linecap="round"/>
<path d="M43.6,220.0 L44.4,218.6 L45.2,218.0 L46.0,217.2 L46.6,217.1 L47.2,216.0 L47.8,215.7 L48.4,215.1 L49.0,215.1 L49.6,215.1 L50.2,214.1 L50.8,212.7 L51.4,212.0 L52.0,211.5 L52.6,210.5 L53.2,209.8 L53.8,208.5 L54.4,208.2 L55.0,209.0 L55.6,206.6 L56.2,206.8 L56.9,206.4 L57.5,206.2 L58.2,204.7 L59.0,204.5 L59.8,205.5 L60.5,206.8 L61.1,207.8 L61.8,209.7 L62.4,210.3 L63.0,211.3 L63.6,210.2 L64.2,210.9 L64.8,213.0 L65.4,214.1 L66.0,213.9 L66.6,214.9 L67.2,214.4 L67.8,215.9 L68.4,217.7 L69.0,218.2 L69.6,218.7 L70.2,219.5 L70.8,218.5 L71.4,218.7 L72.0,219.3 L72.7,220.4 L73.3,221.0 L74.0,221.9 L74.7,221.8 L75.3,222.0 L76.0,222.5 L76.6,221.9 L77.2,222.1 L77.8,221.1 L78.4,222.7 L79.0,221.6 L79.6,223.0 L80.2,222.4 L80.8,221.8 L81.4,221.4 L82.0,221.7 L82.6,222.5 L83.2,222.6 L83.8,221.5 L84.4,221.4 L85.0,222.3 L85.6,222.5 L86.2,222.1 L86.8,221.8 L87.4,222.6 L88.0,222.4" fill="none" stroke="#141414" stroke-width="0.95" stroke-linejoin="round" stroke-linecap="round"/>
<path d="M43.6,221.0 L44.3,218.8 L45.0,218.5 L45.7,218.4 L46.3,219.1 L47.0,217.8 L47.6,218.4 L48.2,217.3 L48.8,216.7 L49.4,216.7 L50.0,218.3 L50.7,217.6 L51.3,216.5 L52.0,215.8 L52.7,216.8 L53.3,217.1 L54.0,216.4 L54.7,215.9 L55.3,216.8 L56.0,217.3 L56.7,215.5 L57.3,215.0 L58.0,215.6 L58.7,215.7 L59.3,216.2 L60.0,214.9 L60.7,216.2 L61.3,215.9 L62.0,215.2 L62.7,214.6 L63.3,216.5 L64.0,215.0 L64.7,216.2 L65.3,214.9 L66.0,214.9 L66.7,216.1 L67.3,214.8 L68.0,216.3 L68.7,215.1 L69.3,214.2 L70.0,214.1 L70.7,214.4 L71.3,214.8 L72.0,215.2 L72.7,213.1 L73.3,213.5 L74.0,212.8 L74.6,214.4 L75.2,212.1 L75.8,211.7 L76.4,211.4 L77.0,211.9 L77.6,212.8 L78.2,212.5 L78.9,211.9 L79.5,212.2 L80.2,211.5 L81.0,209.6 L81.8,210.3 L82.5,213.0 L83.1,213.5 L83.8,212.6 L84.4,215.0 L85.0,215.2 L85.6,215.9 L86.2,216.6 L86.9,217.0 L87.5,217.3 L88.2,218.7 L89.0,220.0" fill="none" stroke="#c40d2a" stroke-width="1.9" stroke-linejoin="round" stroke-linecap="round"/>
<path d="M100.2,218.5 L100.9,217.6 L101.6,218.2 L102.3,215.9 L103.0,216.9 L103.6,214.8 L104.2,214.5 L104.8,214.9 L105.4,214.3 L106.0,212.9 L106.6,211.5 L107.2,211.7 L107.8,210.9 L108.4,211.5 L109.0,209.4 L109.6,209.1 L110.2,209.6 L110.8,207.2 L111.4,207.4 L112.0,207.6 L112.6,207.0 L113.2,205.1 L113.9,204.6 L114.5,204.1 L115.2,206.4 L116.0,205.5 L116.7,207.2 L117.3,208.1 L118.0,207.7 L118.6,208.3 L119.2,210.5 L119.8,210.6 L120.4,210.7 L121.0,212.4 L121.6,212.6 L122.2,213.5 L122.8,214.0 L123.4,216.5 L124.0,217.8 L124.7,218.4 L125.3,220.2 L126.0,219.5 L126.7,220.5 L127.3,221.4 L128.0,222.9 L128.6,222.9 L129.2,221.8 L129.8,221.5 L130.4,221.9 L131.0,222.1 L131.6,223.0 L132.2,221.5 L132.9,222.7 L133.5,222.6 L134.1,222.8 L134.7,222.7 L135.3,222.4 L135.9,221.8 L136.5,221.8 L137.1,221.9 L137.7,222.8 L138.3,221.4 L138.9,221.6 L139.5,222.8 L140.1,221.8 L140.8,221.4 L141.4,221.4 L142.0,222.4 L142.6,222.0 L143.2,223.3 L143.8,223.2 L144.4,223.4 L145.0,222.4" fill="none" stroke="#141414" stroke-width="0.95" stroke-linejoin="round" stroke-linecap="round"/>
<path d="M100.2,217.5 L100.9,217.3 L101.6,217.1 L102.3,217.3 L103.0,218.2 L103.6,218.7 L104.2,218.4 L104.9,218.2 L105.5,218.7 L106.1,219.2 L106.8,219.5 L107.4,219.8 L108.0,220.1 L108.6,219.9 L109.2,219.1 L109.9,220.5 L110.5,219.6 L111.1,220.2 L111.8,220.0 L112.4,220.8 L113.0,220.0 L113.6,220.2 L114.2,220.3 L114.9,220.3 L115.5,221.7 L116.1,221.3 L116.8,221.0 L117.4,221.2 L118.0,222.3 L118.6,221.6 L119.2,221.1 L119.8,222.2 L120.4,222.0 L121.0,222.6 L121.6,221.1 L122.2,221.8 L122.8,222.4 L123.4,222.5 L124.0,222.7 L124.6,221.2 L125.2,221.5 L125.9,221.2 L126.5,221.2 L127.1,222.5 L127.8,221.8 L128.4,222.3 L129.0,221.3 L129.7,221.0 L130.3,219.1 L131.0,217.6 L131.7,216.1 L132.3,214.1 L133.0,210.3 L133.7,208.5 L134.3,205.9 L135.0,202.5 L135.7,200.8 L136.3,198.4 L137.0,196.5 L137.8,198.1 L138.5,200.2 L139.2,203.8 L140.0,206.5 L140.7,208.5 L141.3,211.4 L142.0,214.3 L142.7,215.0 L143.3,216.7 L144.0,218.0 L145.2,220.5" fill="none" stroke="#c40d2a" stroke-width="1.9" stroke-linejoin="round" stroke-linecap="round"/>
<path d="M158.0,218.5 L158.6,218.7 L159.2,217.8 L159.8,216.4 L160.4,216.1 L161.0,216.3 L161.6,216.1 L162.2,215.8 L162.8,214.2 L163.4,213.8 L164.0,214.4 L164.6,213.2 L165.2,212.4 L165.8,211.8 L166.4,212.5 L167.0,210.6 L167.6,210.5 L168.2,209.5 L168.8,209.0 L169.4,209.3 L170.0,209.0 L170.6,207.2 L171.2,206.4 L171.8,207.0 L172.4,205.4 L173.0,204.5 L173.7,206.8 L174.3,206.3 L175.0,207.7 L175.6,207.4 L176.2,209.0 L176.8,208.7 L177.4,208.7 L178.0,209.0 L178.6,210.9 L179.2,211.9 L179.8,213.2 L180.4,212.4 L181.0,214.2 L181.6,214.5 L182.2,215.6 L182.8,215.7 L183.4,216.8 L184.0,218.0 L184.6,219.4 L185.2,218.2 L185.8,219.5 L186.4,220.6 L187.0,221.5 L187.6,220.2 L188.2,220.3 L188.8,222.3 L189.4,222.7 L190.0,222.0 L190.6,221.1 L191.2,222.9 L191.9,221.8 L192.5,222.9 L193.1,222.3 L193.7,222.8 L194.3,221.4 L195.0,222.7 L195.6,221.6 L196.2,222.0 L196.8,222.9 L197.4,222.9 L198.0,221.6 L198.7,221.7 L199.3,222.1 L199.9,222.3 L200.5,222.1 L201.1,221.6 L201.8,221.8 L202.4,222.8 L203.0,222.4" fill="none" stroke="#141414" stroke-width="0.95" stroke-linejoin="round" stroke-linecap="round"/>
<path d="M158.0,218.0 L158.6,218.4 L159.2,216.3 L159.8,216.9 L160.4,216.9 L161.0,215.1 L161.6,216.3 L162.2,214.4 L162.8,215.0 L163.4,214.5 L164.0,214.3 L164.6,213.1 L165.2,212.8 L165.8,212.7 L166.4,211.8 L167.0,211.8 L167.6,210.9 L168.2,210.4 L168.8,209.0 L169.4,209.7 L170.0,209.0 L170.6,208.1 L171.2,208.8 L171.8,208.5 L172.4,207.5 L173.0,206.5 L173.6,207.4 L174.2,206.9 L174.8,207.2 L175.4,208.1 L176.0,207.7 L176.6,209.0 L177.2,209.7 L177.8,209.4 L178.4,211.2 L179.0,210.6 L179.6,212.8 L180.2,213.7 L180.8,213.9 L181.4,213.8 L182.0,215.5 L182.6,215.9 L183.2,217.6 L183.8,216.6 L184.4,218.6 L185.0,219.5 L185.6,219.4 L186.2,219.9 L186.8,219.1 L187.4,221.1 L188.0,220.5 L188.7,221.6 L189.3,221.7 L190.0,220.4 L190.7,221.8 L191.3,222.3 L192.0,220.7 L192.6,221.3 L193.2,222.2 L193.8,221.0 L194.4,222.5 L195.1,221.3 L195.7,222.4 L196.3,221.1 L196.9,221.9 L197.5,222.8 L198.1,221.3 L198.7,221.5 L199.3,222.0 L199.9,221.7 L200.6,221.1 L201.2,221.5 L201.8,221.4 L202.4,223.1 L203.0,222.2" fill="none" stroke="#c40d2a" stroke-width="1.9" stroke-linejoin="round" stroke-linecap="round"/>
<path d="M158.0,218.5 L158.6,218.4 L159.2,218.4 L159.8,216.7 L160.4,217.4 L161.0,215.8 L161.6,216.1 L162.2,215.7 L162.8,214.8 L163.4,215.1 L164.0,214.1 L164.6,213.5 L165.2,213.5 L165.8,211.5 L166.4,212.4 L167.0,211.2 L167.6,210.2 L168.2,210.3 L168.8,208.8 L169.4,209.4 L170.0,208.1 L170.7,207.0 L171.3,206.8 L172.0,205.5 L172.8,207.1 L173.8,205.4 L174.8,206.6 L175.4,208.5 L176.1,208.0 L176.7,209.2 L177.4,210.3 L178.0,210.1 L178.6,211.1 L179.2,211.3 L179.8,211.6 L180.4,212.4 L181.0,213.4 L181.6,215.0 L182.2,215.5 L182.8,216.4 L183.4,217.9 L184.0,217.4 L184.6,218.0 L185.2,219.3 L185.8,218.7 L186.4,219.2 L187.0,220.5" fill="none" stroke="#3a0a10" stroke-width="0.5" stroke-linejoin="round" stroke-linecap="round"/>
<path d="M219.6,218.0 L220.2,217.3 L220.8,216.4 L221.4,216.6 L222.0,215.9 L222.6,216.2 L223.2,215.7 L223.8,214.4 L224.4,214.8 L225.0,213.9 L225.6,212.7 L226.2,213.7 L226.8,211.7 L227.4,210.9 L228.0,210.2 L228.6,210.7 L229.2,210.6 L229.8,209.8 L230.4,208.4 L231.0,207.5 L231.6,206.5 L232.2,207.2 L232.8,206.5 L233.4,205.5 L234.0,205.6 L234.7,205.6 L235.3,207.0 L236.0,207.0 L236.7,207.0 L237.3,209.3 L238.0,208.6 L238.6,210.5 L239.2,211.1 L239.8,211.7 L240.4,212.2 L241.0,214.6 L241.6,213.9 L242.2,215.9 L242.8,217.6 L243.4,216.9 L244.0,217.9 L244.7,219.6 L245.3,220.2 L246.0,221.3 L246.7,222.0 L247.3,221.1 L248.0,221.8 L248.6,221.8 L249.2,221.3 L249.8,223.0 L250.5,222.8 L251.1,222.7 L251.7,221.2 L252.3,223.0 L252.9,222.8 L253.5,222.2 L254.2,222.8 L254.8,222.2 L255.4,221.7 L256.0,221.5 L256.6,221.8 L257.2,221.4 L257.8,222.0 L258.5,222.8 L259.1,222.7 L259.7,223.1 L260.3,222.8 L260.9,221.9 L261.5,222.5 L262.2,222.2 L262.8,223.0 L263.4,222.4 L264.0,222.4" fill="none" stroke="#141414" stroke-width="0.95" stroke-linejoin="round" stroke-linecap="round"/>
<path d="M219.6,220.0 L220.2,219.2 L220.8,219.8 L221.4,220.4 L222.0,218.3 L222.7,219.6 L223.3,217.2 L224.0,217.4 L224.7,217.0 L225.3,217.9 L226.0,218.1 L226.7,217.3 L227.3,215.9 L228.0,216.9 L228.7,215.3 L229.3,214.7 L230.0,216.0 L230.7,214.8 L231.3,214.5 L232.0,213.9 L232.7,214.1 L233.3,212.4 L234.0,212.8 L234.6,212.1 L235.2,212.1 L235.8,210.7 L236.4,210.9 L237.0,210.2 L237.6,209.3 L238.2,208.8 L238.8,209.6 L239.4,208.0 L240.0,209.8 L240.6,208.4 L241.2,208.6 L241.8,209.2 L242.4,211.6 L243.0,210.6 L243.6,210.8 L244.2,211.3 L244.8,212.0 L245.4,214.3 L246.0,214.8 L246.7,215.8 L247.3,216.7 L248.0,216.0 L248.7,217.7 L249.3,217.7 L250.0,219.3 L250.7,219.4 L251.3,219.8 L252.0,218.0 L252.7,220.0 L253.3,220.3 L254.0,220.6 L254.7,218.7 L255.3,219.1 L256.0,219.1 L256.7,219.1 L257.3,221.2 L258.0,221.2 L258.7,220.9 L259.3,221.4 L260.0,221.1 L260.7,220.3 L261.3,220.0 L262.0,220.0 L262.6,221.8 L263.2,220.7 L263.8,221.2 L264.4,221.6 L265.0,222.0" fill="none" stroke="#c40d2a" stroke-width="1.9" stroke-linejoin="round" stroke-linecap="round"/>
<path d="M280.6,218.5 L281.4,216.9 L282.2,216.7 L283.0,216.1 L283.6,216.2 L284.2,214.8 L284.8,214.0 L285.4,214.6 L286.0,213.0 L286.6,213.1 L287.2,212.0 L287.8,210.2 L288.4,210.4 L289.0,209.9 L289.6,210.0 L290.2,208.5 L290.8,208.6 L291.4,207.7 L292.0,206.4 L292.6,207.2 L293.2,205.2 L293.9,206.2 L294.5,204.3 L295.2,204.7 L296.0,205.9 L296.7,207.5 L297.3,208.5 L298.0,207.0 L298.6,209.0 L299.2,210.0 L299.8,211.6 L300.4,211.4 L301.0,213.0 L301.6,213.9 L302.2,216.1 L302.8,216.1 L303.4,218.7 L304.0,218.6 L304.7,219.4 L305.3,221.4 L306.0,222.0 L306.6,221.2 L307.2,222.3 L307.8,221.2 L308.5,222.6 L309.1,222.5 L309.7,222.7 L310.3,222.4 L310.9,221.8 L311.5,221.9 L312.1,221.9 L312.7,222.9 L313.4,221.3 L314.0,223.0 L314.6,221.2 L315.2,221.6 L315.8,221.7 L316.4,223.0 L317.0,222.2 L317.6,222.0 L318.3,223.0 L318.9,221.7 L319.5,222.2 L320.1,222.4 L320.7,222.8 L321.3,222.8 L321.9,222.6 L322.5,222.0 L323.2,222.0 L323.8,221.7 L324.4,223.1 L325.0,222.4" fill="none" stroke="#141414" stroke-width="0.95" stroke-linejoin="round" stroke-linecap="round"/>
<path d="M280.6,219.0 L281.3,219.4 L282.0,219.6 L282.6,218.7 L283.3,219.3 L284.0,220.0 L284.6,219.7 L285.2,219.0 L285.8,219.6 L286.4,220.4 L287.0,219.3 L287.6,219.3 L288.2,219.5 L288.8,220.2 L289.4,220.5 L290.0,219.4 L290.6,219.4 L291.2,219.5 L291.8,219.6 L292.4,219.8 L293.0,219.2 L293.6,219.4 L294.2,219.1 L294.8,220.4 L295.4,219.9 L296.0,218.8 L296.6,219.9 L297.2,218.0 L297.8,218.1 L298.4,218.7 L299.0,218.0 L299.7,217.4 L300.3,216.4 L301.0,215.5 L301.7,216.7 L302.3,216.3 L303.0,217.0 L303.7,218.0 L304.3,218.0 L305.0,219.3 L305.7,220.0 L306.3,219.8 L307.0,219.5 L307.7,218.2 L308.3,216.4 L309.0,214.4 L309.8,212.2 L310.5,208.8 L311.2,207.2 L312.0,205.2 L312.8,203.4 L313.5,202.7 L314.2,202.8 L314.8,202.1 L315.5,201.5 L316.2,202.6 L316.8,203.2 L317.5,203.3 L318.2,204.0 L319.0,205.1 L319.8,206.8 L320.5,208.7 L321.2,210.7 L322.0,212.7 L322.8,215.0 L323.5,215.8 L324.1,217.0 L324.8,218.3 L325.4,218.5" fill="none" stroke="#c40d2a" stroke-width="1.9" stroke-linejoin="round" stroke-linecap="round"/>
<path d="M341.0,220.5 L341.7,220.2 L342.3,219.4 L343.0,218.1 L343.7,217.2 L344.3,216.1 L345.0,215.2 L345.7,213.5 L346.3,212.6 L347.0,211.7 L347.6,209.3 L348.2,209.0 L348.9,208.1 L349.5,206.3 L350.1,205.9 L350.8,206.2 L351.4,204.1 L352.0,204.4 L352.7,204.1 L353.3,205.6 L354.0,206.2 L354.7,206.5 L355.3,206.8 L356.0,208.6 L356.6,209.4 L357.2,210.5 L357.8,210.9 L358.4,211.9 L359.0,213.1 L359.6,213.3 L360.2,213.9 L360.8,215.7 L361.4,215.2 L362.0,216.8 L362.6,217.0 L363.2,218.3 L363.8,218.0 L364.4,220.1 L365.0,219.8 L365.6,219.6 L366.2,220.4 L366.8,221.0 L367.4,220.8 L368.0,221.9 L368.6,221.9 L369.2,222.4 L369.8,221.8 L370.4,221.7 L371.0,221.6 L371.6,222.5 L372.2,222.8 L372.8,222.2 L373.4,221.6 L374.0,222.6 L374.6,222.0 L375.2,221.7 L375.8,221.5 L376.4,222.7 L377.0,222.7 L377.6,222.4 L378.2,222.2 L378.8,222.3 L379.4,221.8 L380.0,223.1 L380.6,222.0 L381.2,222.5 L381.8,222.8 L382.4,222.9 L383.0,222.3 L383.6,222.0 L384.2,222.4 L384.8,221.7 L385.4,223.0 L386.0,222.4" fill="none" stroke="#141414" stroke-width="0.95" stroke-linejoin="round" stroke-linecap="round"/>
<path d="M341.0,221.0 L341.6,220.5 L342.2,221.0 L342.8,219.7 L343.4,219.6 L344.0,219.1 L344.6,219.0 L345.2,218.2 L345.8,217.5 L346.4,218.3 L347.0,217.1 L347.7,216.4 L348.3,215.8 L349.0,215.5 L349.7,215.1 L350.3,215.1 L351.0,214.9 L351.7,214.7 L352.3,215.9 L353.0,216.1 L353.6,214.8 L354.2,216.3 L354.8,216.5 L355.4,216.4 L356.0,215.4 L356.7,215.6 L357.3,214.2 L358.0,212.2 L358.7,210.3 L359.3,210.1 L360.0,207.8 L360.8,205.2 L361.6,203.2 L362.4,201.4 L363.2,203.3 L364.0,206.0 L364.7,206.9 L365.3,208.2 L366.0,211.2 L366.7,212.3 L367.3,212.6 L368.0,215.2 L368.7,215.5 L369.3,216.6 L370.0,217.3 L370.6,218.1 L371.2,218.3 L371.8,218.8 L372.4,218.1 L373.0,219.3 L373.6,219.3 L374.2,219.8 L374.9,219.5 L375.5,220.5 L376.1,220.1 L376.8,219.8 L377.4,219.9 L378.0,220.0 L378.6,220.7 L379.2,220.1 L379.8,220.9 L380.4,220.5 L381.0,221.2 L381.6,221.3 L382.2,221.5 L382.8,222.2 L383.4,220.8 L384.0,222.4 L384.8,221.9 L385.6,222.3 L386.4,222.4" fill="none" stroke="#c40d2a" stroke-width="1.9" stroke-linejoin="round" stroke-linecap="round"/>
<line x1="42.8" y1="78.8" x2="89.8" y2="78.8" stroke="#161616" stroke-width="0.9"/>
<line x1="98.9" y1="78.8" x2="145.7" y2="78.8" stroke="#161616" stroke-width="0.9"/>
<line x1="156.7" y1="78.8" x2="204.9" y2="78.8" stroke="#161616" stroke-width="0.9"/>
<line x1="218.1" y1="78.8" x2="266.3" y2="78.8" stroke="#161616" stroke-width="0.9"/>
<line x1="278.7" y1="78.8" x2="326.2" y2="78.8" stroke="#161616" stroke-width="0.9"/>
<line x1="42.7" y1="223.0" x2="89.8" y2="223.0" stroke="#161616" stroke-width="0.9"/>
<line x1="99.3" y1="223.0" x2="145.7" y2="223.0" stroke="#161616" stroke-width="0.9"/>
<line x1="157.1" y1="223.0" x2="204.1" y2="223.0" stroke="#161616" stroke-width="0.9"/>
<line x1="218.7" y1="223.0" x2="265.5" y2="223.0" stroke="#161616" stroke-width="0.9"/>
<line x1="279.7" y1="223.0" x2="325.9" y2="223.0" stroke="#161616" stroke-width="0.9"/>
<line x1="340.1" y1="223.0" x2="387.3" y2="223.0" stroke="#161616" stroke-width="0.9"/>
<text x="422.0" y="22.0" class="tt">Liquid culture</text>
<text x="422.6" y="122.0" class="tt">Methylcellulose culture</text>
<path transform="translate(428.20,42.09) scale(1.00,1.10)" d="M4.9,0.2 C4.6,1.8 4.1,3.85 2.2,3.85 C0.95,3.85 0.45,3.0 0.45,2.05 C0.45,1.0 0.95,0.3 2.2,0.3 C4.1,0.3 4.2,2.8 5.0,3.9" fill="none" stroke="#080808" stroke-width="1.05" stroke-linecap="round"/>
<text x="433.4" y="48.9" class="sb sv">v</text>
<text x="446.3" y="47.3" class="gr" text-anchor="end">β</text>
<text x="446.2" y="49.0" class="sb">3</text>
<path transform="translate(454.90,42.09) scale(1.00,1.10)" d="M4.9,0.2 C4.6,1.8 4.1,3.85 2.2,3.85 C0.95,3.85 0.45,3.0 0.45,2.05 C0.45,1.0 0.95,0.3 2.2,0.3 C4.1,0.3 4.2,2.8 5.0,3.9" fill="none" stroke="#080808" stroke-width="1.05" stroke-linecap="round"/>
<text x="460.1" y="48.9" class="sb">2</text>
<text x="475.5" y="47.3" class="gr" text-anchor="end">β</text>
<text x="475.4" y="49.0" class="sb">1</text>
<path transform="translate(482.50,42.09) scale(1.00,1.10)" d="M4.9,0.2 C4.6,1.8 4.1,3.85 2.2,3.85 C0.95,3.85 0.45,3.0 0.45,2.05 C0.45,1.0 0.95,0.3 2.2,0.3 C4.1,0.3 4.2,2.8 5.0,3.9" fill="none" stroke="#080808" stroke-width="1.05" stroke-linecap="round"/>
<text x="487.7" y="48.9" class="sb">5</text>
<text transform="translate(502.5,49.5) rotate(-90)" class="tt" style="font-size:8.7px">G3PDH</text>
<text x="503.4" y="49.1" class="tt">DW</text>
<path transform="translate(428.20,150.09) scale(1.00,1.10)" d="M4.9,0.2 C4.6,1.8 4.1,3.85 2.2,3.85 C0.95,3.85 0.45,3.0 0.45,2.05 C0.45,1.0 0.95,0.3 2.2,0.3 C4.1,0.3 4.2,2.8 5.0,3.9" fill="none" stroke="#080808" stroke-width="1.05" stroke-linecap="round"/>
<text x="433.4" y="156.9" class="sb sv">v</text>
<text x="446.3" y="155.3" class="gr" text-anchor="end">β</text>
<text x="446.2" y="157.0" class="sb">3</text>
<path transform="translate(454.90,150.09) scale(1.00,1.10)" d="M4.9,0.2 C4.6,1.8 4.1,3.85 2.2,3.85 C0.95,3.85 0.45,3.0 0.45,2.05 C0.45,1.0 0.95,0.3 2.2,0.3 C4.1,0.3 4.2,2.8 5.0,3.9" fill="none" stroke="#080808" stroke-width="1.05" stroke-linecap="round"/>
<text x="460.1" y="156.9" class="sb">2</text>
<text x="475.5" y="155.3" class="gr" text-anchor="end">β</text>
<text x="475.4" y="157.0" class="sb">1</text>
<path transform="translate(482.50,150.09) scale(1.00,1.10)" d="M4.9,0.2 C4.6,1.8 4.1,3.85 2.2,3.85 C0.95,3.85 0.45,3.0 0.45,2.05 C0.45,1.0 0.95,0.3 2.2,0.3 C4.1,0.3 4.2,2.8 5.0,3.9" fill="none" stroke="#080808" stroke-width="1.05" stroke-linecap="round"/>
<text x="487.7" y="156.9" class="sb">5</text>
<text transform="translate(502.5,157.5) rotate(-90)" class="tt" style="font-size:8.7px">G3PDH</text>
<text x="503.4" y="157.1" class="tt">DW</text>
</g>
<rect x="423.0" y="51.0" width="95.6" height="47.4" fill="#020109"/>
<rect x="425.0" y="54.0" width="91.6" height="1.0" fill="#121128" opacity="0.7"/>
<rect x="427.9" y="83.3" width="8.8" height="3.2" rx="0.8" fill="#b9c3ff" opacity="0.95" filter="url(#bl)"/>
<ellipse cx="429.7" cy="84.9" rx="1.6" ry="1.0" fill="#ffffff" opacity="0.85" filter="url(#bl)"/>
<ellipse cx="432.3" cy="84.9" rx="1.6" ry="1.0" fill="#ffffff" opacity="0.85" filter="url(#bl)"/>
<ellipse cx="434.9" cy="84.9" rx="1.6" ry="1.0" fill="#ffffff" opacity="0.85" filter="url(#bl)"/>
<rect x="441.4" y="83.3" width="8.8" height="3.2" rx="0.8" fill="#bcc6ff" opacity="0.95" filter="url(#bl)"/>
<ellipse cx="443.2" cy="84.9" rx="1.6" ry="1.0" fill="#ffffff" opacity="0.85" filter="url(#bl)"/>
<ellipse cx="445.8" cy="84.9" rx="1.6" ry="1.0" fill="#ffffff" opacity="0.85" filter="url(#bl)"/>
<ellipse cx="448.4" cy="84.9" rx="1.6" ry="1.0" fill="#ffffff" opacity="0.85" filter="url(#bl)"/>
<rect x="458.5" y="84.0" width="5.0" height="2.0" rx="0.8" fill="#5a5f9a" opacity="0.18" filter="url(#bl)"/>
<rect x="468.6" y="83.8" width="8.6" height="2.4" rx="0.8" fill="#8a92d8" opacity="0.4" filter="url(#bl)"/>
<rect x="482.2" y="83.8" width="9.0" height="3.1" rx="0.8" fill="#aab4f6" opacity="0.9" filter="url(#bl)"/>
<ellipse cx="484.0" cy="85.3" rx="1.6" ry="1.0" fill="#ffffff" opacity="0.85" filter="url(#bl)"/>
<ellipse cx="486.7" cy="85.3" rx="1.6" ry="1.0" fill="#ffffff" opacity="0.85" filter="url(#bl)"/>
<ellipse cx="489.4" cy="85.3" rx="1.6" ry="1.0" fill="#ffffff" opacity="0.85" filter="url(#bl)"/>
<rect x="495.8" y="69.2" width="9.0" height="3.5" rx="0.8" fill="#c9d2ff" opacity="1" filter="url(#bl)"/>
<ellipse cx="497.6" cy="71.0" rx="1.6" ry="1.0" fill="#ffffff" opacity="0.85" filter="url(#bl)"/>
<ellipse cx="500.3" cy="71.0" rx="1.6" ry="1.0" fill="#ffffff" opacity="0.85" filter="url(#bl)"/>
<ellipse cx="503.0" cy="71.0" rx="1.6" ry="1.0" fill="#ffffff" opacity="0.85" filter="url(#bl)"/>
<rect x="422.0" y="159.2" width="96.6" height="47.8" fill="#020109"/>
<rect x="424.0" y="162.2" width="92.6" height="1.0" fill="#121128" opacity="0.7"/>
<rect x="427.3" y="190.1" width="9.6" height="3.4" rx="0.8" fill="#b9c3ff" opacity="0.95" filter="url(#bl)"/>
<ellipse cx="429.2" cy="191.8" rx="1.6" ry="1.0" fill="#ffffff" opacity="0.85" filter="url(#bl)"/>
<ellipse cx="432.1" cy="191.8" rx="1.6" ry="1.0" fill="#ffffff" opacity="0.85" filter="url(#bl)"/>
<ellipse cx="435.0" cy="191.8" rx="1.6" ry="1.0" fill="#ffffff" opacity="0.85" filter="url(#bl)"/>
<rect x="440.6" y="190.1" width="9.6" height="3.4" rx="0.8" fill="#bcc6ff" opacity="0.95" filter="url(#bl)"/>
<ellipse cx="442.5" cy="191.8" rx="1.6" ry="1.0" fill="#ffffff" opacity="0.85" filter="url(#bl)"/>
<ellipse cx="445.4" cy="191.8" rx="1.6" ry="1.0" fill="#ffffff" opacity="0.85" filter="url(#bl)"/>
<ellipse cx="448.3" cy="191.8" rx="1.6" ry="1.0" fill="#ffffff" opacity="0.85" filter="url(#bl)"/>
<rect x="457.0" y="191.0" width="4.5" height="2.0" rx="0.8" fill="#5a5f9a" opacity="0.15" filter="url(#bl)"/>
<rect x="468.2" y="190.7" width="8.6" height="2.3" rx="0.8" fill="#7a82c8" opacity="0.35" filter="url(#bl)"/>
<rect x="481.8" y="190.3" width="9.6" height="3.2" rx="0.8" fill="#9aa4ea" opacity="0.9" filter="url(#bl)"/>
<ellipse cx="483.7" cy="191.9" rx="1.6" ry="1.0" fill="#ffffff" opacity="0.85" filter="url(#bl)"/>
<ellipse cx="486.6" cy="191.9" rx="1.6" ry="1.0" fill="#ffffff" opacity="0.85" filter="url(#bl)"/>
<ellipse cx="489.5" cy="191.9" rx="1.6" ry="1.0" fill="#ffffff" opacity="0.85" filter="url(#bl)"/>
<rect x="495.2" y="176.4" width="9.0" height="3.5" rx="0.8" fill="#c9d2ff" opacity="1" filter="url(#bl)"/>
<ellipse cx="497.0" cy="178.2" rx="1.6" ry="1.0" fill="#ffffff" opacity="0.85" filter="url(#bl)"/>
<ellipse cx="499.7" cy="178.2" rx="1.6" ry="1.0" fill="#ffffff" opacity="0.85" filter="url(#bl)"/>
<ellipse cx="502.4" cy="178.2" rx="1.6" ry="1.0" fill="#ffffff" opacity="0.85" filter="url(#bl)"/>
</svg></body></html>
